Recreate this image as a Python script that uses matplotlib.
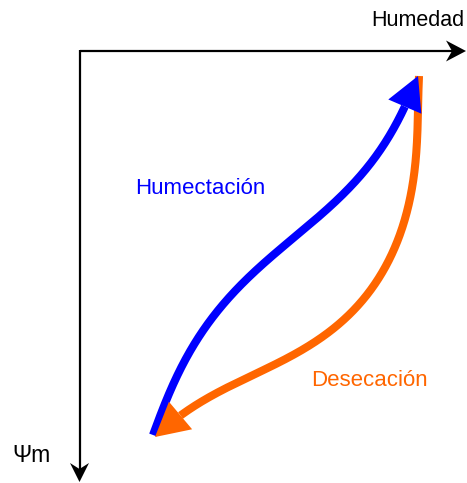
import numpy as np
import matplotlib
matplotlib.use("Agg")
import matplotlib.pyplot as plt
from matplotlib.patches import Polygon

# ---- data (pixel space of the original drawing) ----
wet_x = [153, 163, 177, 193, 210, 230, 250, 276, 303, 327, 350, 370, 387, 400, 418]
wet_y = [435, 407, 377, 347, 320, 297, 275, 253, 230, 210, 187, 163, 140, 117, 76]
dry_x = [419, 418, 416, 412, 403, 390, 373, 347, 313, 287, 253, 227, 200, 180, 155]
dry_y = [76, 107, 150, 193, 227, 257, 283, 318, 345, 359, 373, 387, 403, 417, 437]
label_wet = "Humectación"
label_dry = "Desecación"
label_x = "Humedad"
label_y = "Ψm"

BLUE = "#0000FF"
ORANGE = "#FF6600"
W, H = 467, 483

fig = plt.figure(figsize=(W / 100, H / 100), dpi=100)
ax = fig.add_axes([0, 0, 1, 1])
ax.set_xlim(0, W)
ax.set_ylim(H, 0)
ax.axis("off")


def smooth(xs, ys, deg=6, n=500):
    """Smooth parametric least-squares fit through the traced points."""
    P = np.column_stack([xs, ys]).astype(float)
    s = np.concatenate([[0], np.cumsum(np.hypot(*np.diff(P, axis=0).T))])
    s = s / s[-1]
    w = np.ones(len(s))
    w[0] = w[-1] = 30
    cx = np.polyfit(s, P[:, 0], deg, w=w)
    cy = np.polyfit(s, P[:, 1], deg, w=w)
    t = np.linspace(0, 1, n)
    return np.column_stack([np.polyval(cx, t), np.polyval(cy, t)])


def split_head(curve, head_len):
    seg = np.sqrt((np.diff(curve, axis=0) ** 2).sum(1))
    cum = np.concatenate([[0], np.cumsum(seg)])
    rem = cum[-1] - cum
    idx = np.searchsorted(-rem, -head_len)
    return curve[:idx + 1], curve[idx], curve[-1]


def head_poly(base, tip, half_w):
    d = tip - base
    d = d / np.hypot(*d)
    nrm = np.array([-d[1], d[0]])
    return [tip, base + nrm * half_w, base - nrm * half_w]


HEAD_L, HEAD_W = 34, 18
LW = 5.8

wet = smooth(wet_x, wet_y)
dry = smooth(dry_x, dry_y)
wet_line, wet_base, wet_tip = split_head(wet, HEAD_L)
dry_line, dry_base, dry_tip = split_head(dry, HEAD_L)

ax.plot(dry_line[:, 0], dry_line[:, 1], color=ORANGE, lw=LW, solid_capstyle="butt", zorder=2)
ax.plot(wet_line[:, 0], wet_line[:, 1], color=BLUE, lw=LW, solid_capstyle="butt", zorder=3)
ax.add_patch(Polygon(head_poly(wet_base, wet_tip, HEAD_W), closed=True, color=BLUE, lw=0, zorder=4))
ax.add_patch(Polygon(head_poly(dry_base, dry_tip, HEAD_W), closed=True, color=ORANGE, lw=0, zorder=5))

# ---- axes arrows ----
ox, oy = 79.5, 51
xend, yend = 466, 482
ax.plot([ox, xend - 10], [oy, oy], color="black", lw=1.6, solid_capstyle="butt", zorder=1)
ax.plot([ox, ox], [oy - 0.8, yend - 10], color="black", lw=1.6, solid_capstyle="butt", zorder=1)
ax.add_patch(Polygon([[xend, oy], [xend - 20, oy - 10.5], [xend - 14, oy], [xend - 20, oy + 10.5]],
                     closed=True, color="black", lw=0, zorder=1))
ax.add_patch(Polygon([[ox, yend], [ox - 9.5, yend - 19], [ox, yend - 13], [ox + 9.5, yend - 19]],
                     closed=True, color="black", lw=0, zorder=1))

FONT = ["Liberation Sans", "DejaVu Sans"]
ax.text(418, 20, label_x, fontsize=15.5, family=FONT, ha="center", va="center", color="black")
ax.text(31, 456, label_y, fontsize=16.5, family=FONT, ha="center", va="center", color="black")
ax.text(200, 188, label_wet, fontsize=16, family=FONT, ha="center", va="center", color=BLUE)
ax.text(369, 381, label_dry, fontsize=16, family=FONT, ha="center", va="center", color=ORANGE)

fig.savefig("out.png", dpi=100)
